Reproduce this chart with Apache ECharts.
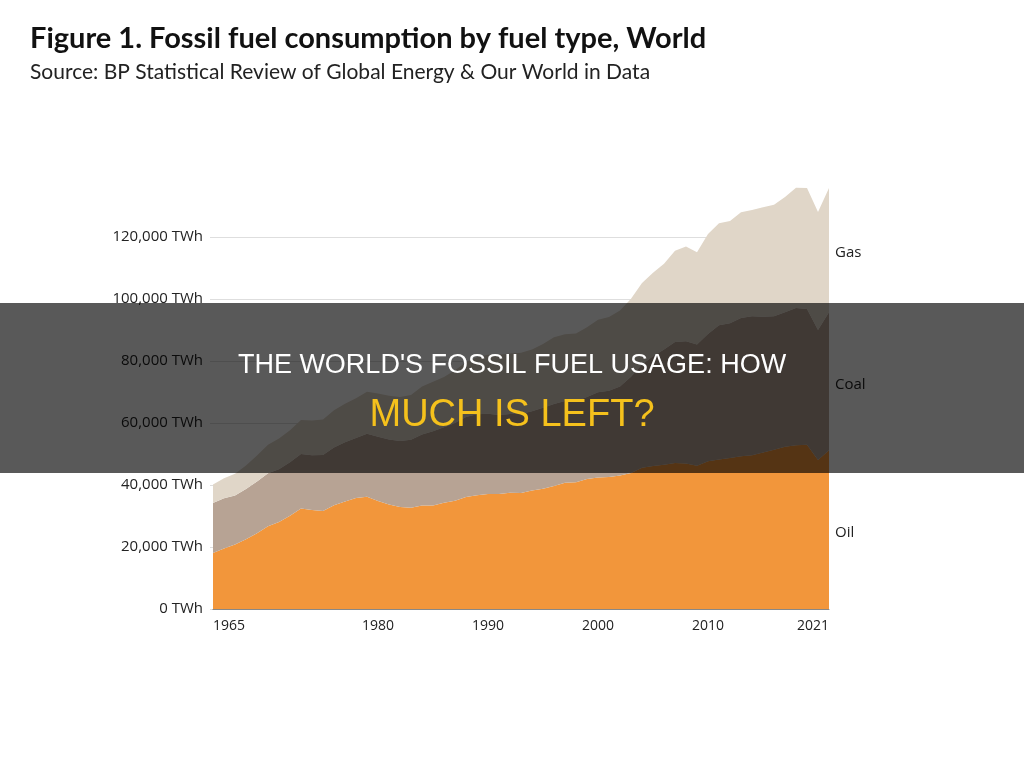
<!DOCTYPE html>
<html>
<head>
<meta charset="utf-8">
<title>Fossil fuel consumption by fuel type, World</title>
<script src="https://cdn.jsdelivr.net/npm/echarts@6/dist/echarts.min.js"></script>
<style>
    html, body {margin: 0; padding: 0; background: #fff;}
    #chart {width: 1024px; height: 775px;}
</style>
</head>
<body>
<div id="chart"></div>
<script>
// data (TWh)
var years = ['1965', '1966', '1967', '1968', '1969', '1970', '1971', '1972', '1973', '1974',
    '1975', '1976', '1977', '1978', '1979', '1980', '1981', '1982', '1983', '1984',
    '1985', '1986', '1987', '1988', '1989', '1990', '1991', '1992', '1993', '1994',
    '1995', '1996', '1997', '1998', '1999', '2000', '2001', '2002', '2003', '2004',
    '2005', '2006', '2007', '2008', '2009', '2010', '2011', '2012', '2013', '2014',
    '2015', '2016', '2017', '2018', '2019', '2020', '2021'];
var oil = [18100, 19500, 20800, 22500, 24400, 26700, 28100, 30100, 32400, 31900,
    31600, 33500, 34700, 35800, 36200, 34800, 33700, 32900, 32700, 33400,
    33400, 34300, 34900, 36100, 36700, 37100, 37100, 37500, 37400, 38200,
    38800, 39700, 40700, 40900, 41900, 42400, 42600, 43100, 43900, 45600,
    46100, 46500, 47100, 46900, 46200, 47700, 48200, 48700, 49300, 49600,
    50500, 51400, 52300, 52800, 53000, 48100, 51200];
var coal = [16100, 16200, 15800, 16200, 16700, 17100, 17000, 17200, 17600, 17700,
    18100, 18600, 19100, 19400, 20300, 20800, 21000, 21300, 21900, 22900,
    23900, 24300, 25100, 25800, 26100, 25900, 25500, 25400, 25500, 25600,
    26100, 26400, 26400, 26200, 26500, 27500, 27800, 28700, 31000, 33300,
    35400, 37200, 39000, 39500, 39100, 41000, 43300, 43500, 44600, 44800,
    43800, 43000, 43400, 44300, 43800, 41900, 44500];
var gas = [6000, 6500, 7000, 7600, 8400, 9200, 9900, 10400, 11000, 11200,
    11400, 12000, 12400, 12800, 13600, 13900, 14100, 14200, 14400, 15500,
    16000, 16200, 17000, 17700, 18400, 19000, 19400, 19500, 19800, 19900,
    20600, 21600, 21500, 21800, 22500, 23400, 23800, 24500, 25200, 26300,
    27000, 27700, 29500, 30500, 29800, 32300, 32900, 33000, 34100, 34300,
    35300, 36000, 37200, 38800, 39000, 38100, 40100];
var fuelNames = ['Oil', 'Coal', 'Gas'];
var fuelColors = ['#f2963b', '#b7a394', '#e0d6c8'];
var tickYears = ['1965', '1980', '1990', '2000', '2010', '2021'];
var bannerLines = ["THE WORLD'S FOSSIL FUEL USAGE: HOW", 'MUCH IS LEFT?'];

var chart = echarts.init(document.getElementById('chart'));
var seriesData = [oil, coal, gas];
var labelFont = '"Open Sans", sans-serif';

var option = {
    animation: false,
    backgroundColor: '#fff',
    title: {
        text: 'Figure 1. Fossil fuel consumption by fuel type, World',
        subtext: 'Source: BP Statistical Review of Global Energy & Our World in Data',
        left: 25,
        top: 19,
        itemGap: 9,
        textStyle: {fontFamily: 'Lato', fontWeight: 'bold', fontSize: 29, color: '#111'},
        subtextStyle: {fontFamily: 'Lato', fontSize: 21, color: '#222'}
    },
    grid: {left: 213, right: 195, top: 184.3, bottom: 166},
    xAxis: {
        type: 'category',
        data: years,
        boundaryGap: false,
        z: 3,
        axisLine: {lineStyle: {color: '#888', width: 1}},
        axisTick: {show: false},
        axisLabel: {
            interval: function (i, v) {
                return tickYears.indexOf(v) >= 0;
            },
            margin: 10,
            alignMinLabel: 'left',
            alignMaxLabel: 'right',
            fontFamily: labelFont,
            fontSize: 14,
            color: '#222'
        }
    },
    yAxis: {
        type: 'value',
        min: 0,
        max: 137000,
        interval: 20000,
        z: 3,
        axisLine: {show: false},
        axisTick: {show: true, length: 3, lineStyle: {color: 'rgba(0,0,0,0.13)'}},
        splitLine: {showMaxLine: false, lineStyle: {color: 'rgba(0,0,0,0.13)', width: 1}},
        axisLabel: {
            showMaxLabel: false,
            margin: 10,
            fontFamily: labelFont,
            fontSize: 15,
            color: '#222',
            formatter: function (v) {
                return v.toLocaleString('en-US') + ' TWh';
            }
        }
    },
    series: seriesData.map(function (d, i) {
        return {
            name: fuelNames[i],
            type: 'line',
            stack: 'fuel',
            data: d,
            symbol: 'none',
            lineStyle: {width: 0},
            areaStyle: {color: fuelColors[i], opacity: 1},
            itemStyle: {color: fuelColors[i]}
        };
    })
};
chart.setOption(option);

// fuel names at the right, centred on each band in the last year
var last = years.length - 1;
var graphics = [];
var base = 0;
seriesData.forEach(function (d, i) {
    var mid = base + d[last] / 2;
    base += d[last];
    var p = chart.convertToPixel({gridIndex: 0}, [last, mid]);
    graphics.push({
        type: 'text',
        x: p[0] + 6,
        y: p[1] + 3,
        z: 10,
        style: {text: fuelNames[i], font: '15px ' + labelFont, fill: '#222', textVerticalAlign: 'middle'}
    });
});

// dark banner with headline
graphics.push({
    type: 'rect',
    z: 100,
    shape: {x: 0, y: 303, width: 1024, height: 170},
    style: {fill: 'rgba(0,0,0,0.65)'}
});
graphics.push({
    type: 'text',
    z: 101,
    x: 512,
    y: 366,
    style: {text: bannerLines[0], font: '27px "Liberation Sans", Arial, sans-serif', fill: '#fff',
        textAlign: 'center', textVerticalAlign: 'middle'}
});
graphics.push({
    type: 'text',
    z: 101,
    x: 512,
    y: 416,
    style: {text: bannerLines[1], font: '38px "Liberation Sans", Arial, sans-serif', fill: '#f5c11c',
        textAlign: 'center', textVerticalAlign: 'middle'}
});
chart.setOption({graphic: graphics});
</script>
</body>
</html>
